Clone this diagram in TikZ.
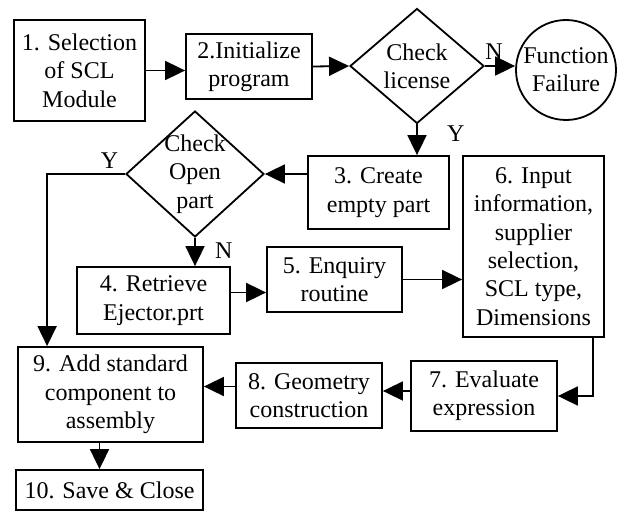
\documentclass[tikz,border=0pt]{standalone}
\usepackage{fontspec}
\setmainfont{Liberation Serif}
\usetikzlibrary{shapes.geometric,arrows.meta,positioning}

\begin{document}
\begin{tikzpicture}[x=1pt,y=-1pt,line width=1.8pt,
   font=\fontsize{24}{28.3}\selectfont,
   block/.style={draw,rectangle,align=center,inner sep=0pt},
   decision/.style={draw,diamond,align=center,inner sep=-14pt},
   stop/.style={draw,circle,align=center,inner sep=0pt,minimum size=100pt},
   flow/.style={-{Triangle[length=20pt,width=19pt]}}]
   \useasboundingbox (0,0) rectangle (624,511);

   \node[block,minimum width=131pt,minimum height=101pt] (sel)    at (79.5,70.5)  {1. Selection\\of SCL\\Module};
   \node[block,minimum width=126pt,minimum height=65pt]  (init)   at (249,66.5)   {2.Initialize\\program};
   \node[decision,minimum width=134pt,minimum height=115pt] (lic) at (417,66)     {Check\\license};
   \node[stop] (fail) at (566,70) {Function\\Failure};
   \node[block,minimum width=141pt,minimum height=73pt]  (create) at (378.5,192.5) {3. Create\\empty part};
   \node[decision,minimum width=138pt,minimum height=126pt] (open) at (195,174)   {Check\\Open\\part};
   \node[block,minimum width=141pt,minimum height=181pt] (input)  at (533.5,246.5) {6. Input\\information,\\supplier\\selection,\\SCL type,\\Dimensions};
   \node[block,minimum width=153pt,minimum height=67pt]  (retr)   at (153.5,300.5) {4. Retrieve\\Ejector.prt};
   \node[block,minimum width=135pt,minimum height=65pt]  (enq)    at (334.5,279.5) {5. Enquiry\\routine};
   \node[block,minimum width=146pt,minimum height=70pt]  (eval)   at (484,396)    {7. Evaluate\\expression};
   \node[block,minimum width=146pt,minimum height=65pt]  (geom)   at (309,395.5)  {8. Geometry\\construction};
   \node[block,minimum width=185pt,minimum height=95pt]  (add)    at (110.5,394.5) {9. Add standard\\component to\\assembly};
   \node[block,minimum width=187pt,minimum height=40pt]  (save)   at (109.5,490)  {10. Save \& Close};

   % main flow
   \draw[flow] (sel.east) -- (sel.east -| init.west);
   \draw[flow] (init.east) -- (lic.west);
   \draw[flow] (lic.east) -- node[pos=0.3,above=2pt] {N} (lic.east -| fail.west);
   \draw[flow] (lic.south) -- node[pos=0.3,right=26pt] {Y} (lic.south |- create.north);
   \draw[flow] (create.west |- open.east) -- (open.east);
   \draw[flow] (open.west) -| node[pos=0.1,above=1pt] {Y} ([xshift=30pt]add.north west);
   \draw[flow] (open.south) -- node[pos=0.45,right=16pt] {N} (open.south |- retr.north);
   \draw[flow] ([yshift=8pt]retr.east) -- ([yshift=8pt]retr.east -| enq.west);
   \draw[flow] (enq.east) -- (enq.east -| input.west);
   \draw[flow] ([xshift=-12pt]input.south east) |- (eval.east);
   \draw[flow] ([yshift=5pt]eval.west) -- ([yshift=5pt]eval.west -| geom.east);
   \draw[flow] ([yshift=9pt]geom.west) -- ([yshift=9pt]geom.west -| add.east);
   \draw[flow] ([xshift=-11pt]add.south) -- ([xshift=-11pt]add.south |- save.north);
\end{tikzpicture}
\end{document}
